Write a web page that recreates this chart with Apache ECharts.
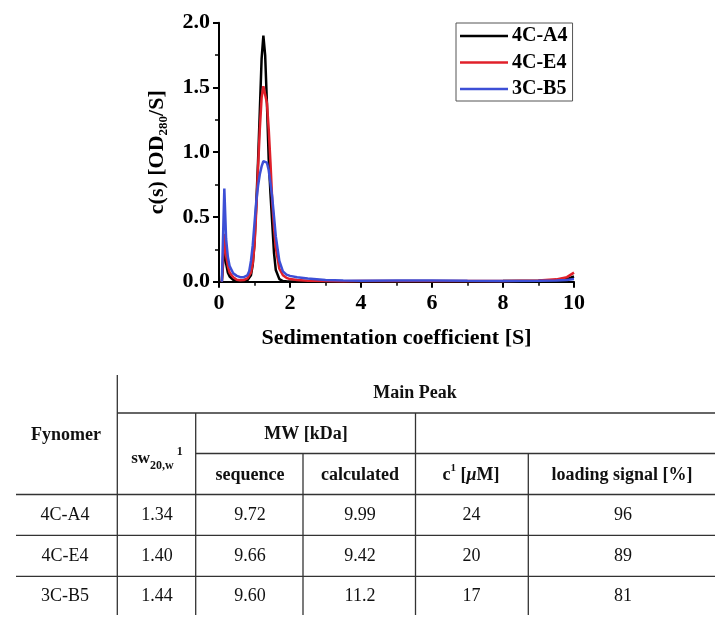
<!DOCTYPE html>
<html>
<head>
<meta charset="utf-8">
<script src="https://cdn.jsdelivr.net/npm/echarts@6/dist/echarts.min.js"></script>
<style>
html,body{margin:0;padding:0;background:#fff;}
#chart{width:725px;height:625px;}
</style>
</head>
<body>
<div id="chart"></div>
<script>
// ---- chart data ----
var seriesNames = ['4C-A4', '4C-E4', '3C-B5'];
var sValues = [0.08,0.1,0.15,0.2,0.25,0.3,0.4,0.5,0.6,0.7,0.8,0.85,0.9,0.95,1.0,1.05,1.1,1.15,1.2,1.25,1.3,1.35,1.4,1.45,1.5,1.55,1.6,1.7,1.8,1.9,2.0,2.2,2.5,3.0,3.5,4,5,6,7,8,9,9.5,9.8,10];
var cA4 = [0,0.08,0.28,0.14,0.07,0.04,0.015,0.006,0.004,0.006,0.012,0.025,0.05,0.13,0.3,0.6,0.93,1.32,1.72,1.9,1.75,1.38,0.95,0.68,0.45,0.22,0.09,0.02,0.005,0.003,0.002,0.002,0.002,0.002,0.003,0.003,0.004,0.004,0.004,0.005,0.008,0.012,0.02,0.04];
var cE4 = [0,0.1,0.37,0.2,0.12,0.07,0.035,0.015,0.012,0.013,0.025,0.04,0.07,0.14,0.28,0.55,0.88,1.18,1.42,1.51,1.50,1.38,1.18,0.92,0.62,0.42,0.26,0.1,0.05,0.03,0.02,0.013,0.008,0.005,0.004,0.005,0.006,0.006,0.005,0.006,0.01,0.018,0.035,0.07];
var cB5 = [0,0.2,0.72,0.33,0.19,0.12,0.065,0.045,0.035,0.035,0.05,0.08,0.16,0.28,0.45,0.62,0.74,0.83,0.89,0.93,0.94,0.92,0.86,0.76,0.65,0.5,0.35,0.16,0.08,0.055,0.045,0.035,0.025,0.013,0.009,0.008,0.01,0.009,0.007,0.006,0.008,0.01,0.014,0.02];
var seriesColors = ['#000000', '#e0202a', '#3d4fd6'];

// ---- table data ----
var fynomers = ['4C-A4', '4C-E4', '3C-B5'];
var sw20w = ['1.34', '1.40', '1.44'];
var mwSequence = ['9.72', '9.66', '9.60'];
var mwCalculated = ['9.99', '9.42', '11.2'];
var concentration = ['24', '20', '17'];
var loadingSignal = ['96', '89', '81'];

var FONT = '"Liberation Serif", "Times New Roman", serif';

function pairs(xs, ys) { return xs.map(function (x, i) { return [x, ys[i]]; }); }
var allY = [cA4, cE4, cB5];

var series = seriesNames.map(function (n, i) {
  return {
    name: n, type: 'line', data: pairs(sValues, allY[i]),
    symbol: 'none', smooth: false,
    lineStyle: { color: seriesColors[i], width: 2.5 },
    itemStyle: { color: seriesColors[i] },
    z: 2 + i
  };
});

// table graphics
var lineCol = '#333';
var g = [];
function hl(x1, x2, y) { g.push({ type: 'line', shape: { x1: x1, y1: y, x2: x2, y2: y }, style: { stroke: lineCol, lineWidth: 1.3 } }); }
function vl(x, y1, y2) { g.push({ type: 'line', shape: { x1: x, y1: y1, x2: x, y2: y2 }, style: { stroke: lineCol, lineWidth: 1.3 } }); }
function tx(text, x, y, bold, extra) {
  var st = { text: text, x: x, y: y, align: 'center', verticalAlign: 'middle', fill: '#111',
    font: (bold ? 'bold ' : '') + '18px ' + FONT };
  if (extra) for (var k in extra) st[k] = extra[k];
  g.push({ type: 'text', style: st });
}
hl(117, 715, 413);
hl(196, 715, 453.5);
hl(16, 715, 494.5);
hl(16, 715, 535.3);
hl(16, 715, 576.3);
vl(117.3, 375, 615);
vl(195.7, 413, 615);
vl(303, 453.5, 615);
vl(415.5, 413, 615);
vl(528.3, 453.5, 615);

tx('Main Peak', 415, 393, true);
tx('Fynomer', 66, 435, true);
tx('MW [kDa]', 306, 434, true);
tx('sequence', 250, 475, true);
tx('calculated', 360, 475, true);
tx('loading signal [%]', 622, 475, true);
tx('{b|sw}{s|20,w}{p|1}', 157, 459, true, {
  rich: {
    b: { font: 'bold 17px ' + FONT, lineHeight: 26, fill: '#111' },
    s: { font: 'bold 12px ' + FONT, lineHeight: 10, verticalAlign: 'bottom', fill: '#111' },
    p: { font: 'bold 12px ' + FONT, lineHeight: 6, verticalAlign: 'top', fill: '#111', padding: [0, 0, 0, 3] }
  }
});
tx('{b|c}{p|1}{b| [}{i|μ}{b|M]}', 471, 475, true, {
  rich: {
    b: { font: 'bold 18px ' + FONT, lineHeight: 24, fill: '#111' },
    p: { font: 'bold 11px ' + FONT, lineHeight: 12, verticalAlign: 'top', fill: '#111' },
    i: { font: 'italic bold 18px ' + FONT, lineHeight: 24, fill: '#111' }
  }
});
var colX = [65, 157, 250, 360, 471.5, 623];
var rowY = [515, 556, 596];
for (var r = 0; r < fynomers.length; r++) {
  var vals = [fynomers[r], sw20w[r], mwSequence[r], mwCalculated[r], concentration[r], loadingSignal[r]];
  for (var c = 0; c < vals.length; c++) tx(vals[c], colX[c], rowY[r], false);
}

var chart = echarts.init(document.getElementById('chart'));
chart.setOption({
  backgroundColor: '#fff',
  animation: false,
  grid: { left: 219, right: 151, top: 22.7, bottom: 343.3, containLabel: false },
  legend: {
    orient: 'vertical', left: 456, top: 23,
    data: seriesNames,
    icon: 'rect',
    itemWidth: 48, itemHeight: 2.5, itemGap: 6.5,
    padding: [3, 5, 2, 4],
    borderColor: '#555', borderWidth: 1,
    textStyle: { fontFamily: FONT, fontWeight: 'bold', fontSize: 20, color: '#000', lineHeight: 20, padding: [0, 0, 0, -1] }
  },
  xAxis: {
    type: 'value', min: 0, max: 10, interval: 2,
    name: 'Sedimentation coefficient [S]', nameLocation: 'middle', nameGap: 46,
    nameTextStyle: { fontFamily: FONT, fontWeight: 'bold', fontSize: 22, color: '#000' },
    axisLine: { lineStyle: { color: '#000', width: 2 } },
    axisTick: { length: 6, lineStyle: { color: '#000', width: 2 } },
    minorTick: { show: true, splitNumber: 2, length: 4, lineStyle: { color: '#000', width: 1.5 } },
    axisLabel: { fontFamily: FONT, fontWeight: 'bold', fontSize: 22, color: '#000', margin: 11 },
    splitLine: { show: false }
  },
  yAxis: {
    type: 'value', min: 0, max: 2, interval: 0.5,
    name: '{a|c(s) [OD}{s|280}{a|/S]}', nameLocation: 'middle', nameGap: 49,
    nameTextStyle: {
      rich: {
        a: { fontFamily: FONT, fontWeight: 'bold', fontSize: 22, color: '#000', lineHeight: 26 },
        s: { fontFamily: FONT, fontWeight: 'bold', fontSize: 13, color: '#000', lineHeight: 12, verticalAlign: 'bottom' }
      }
    },
    axisLine: { show: true, lineStyle: { color: '#000', width: 2 } },
    axisTick: { show: true, length: 6, lineStyle: { color: '#000', width: 2 } },
    minorTick: { show: true, splitNumber: 2, length: 4, lineStyle: { color: '#000', width: 1.5 } },
    axisLabel: { fontFamily: FONT, fontWeight: 'bold', fontSize: 22, color: '#000', margin: 9,
      formatter: function (v) { return v.toFixed(1); } },
    splitLine: { show: false }
  },
  series: series,
  graphic: g
});
</script>
</body>
</html>
